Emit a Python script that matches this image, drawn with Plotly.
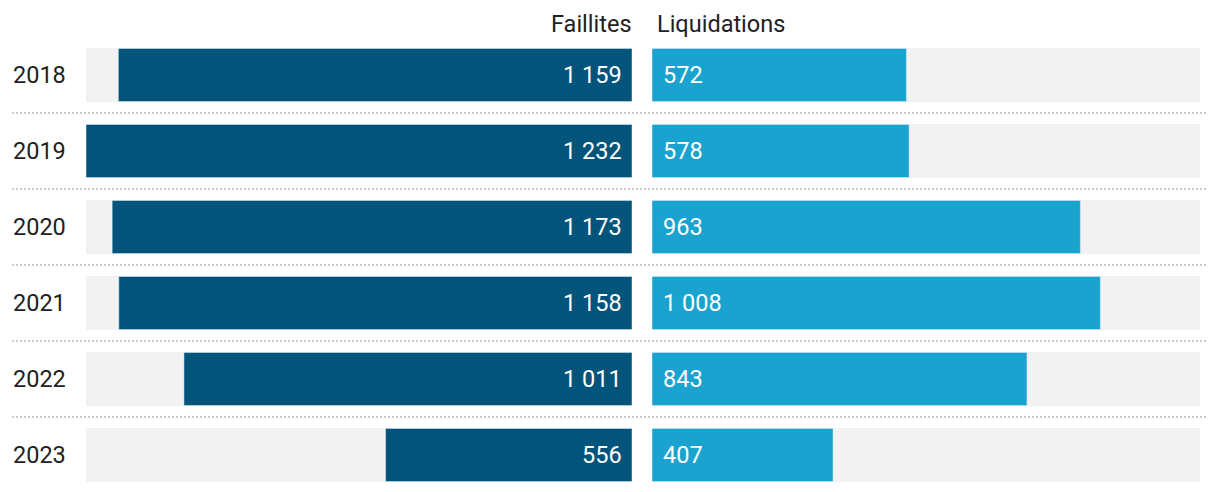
import plotly.graph_objects as go

years = ["2018", "2019", "2020", "2021", "2022", "2023"]
faillites = [1159, 1232, 1173, 1158, 1011, 556]
liquidations = [572, 578, 963, 1008, 843, 407]
title_left = "Faillites"
title_right = "Liquidations"

DARK = "#02547a"
LIGHT = "#1aa3cf"
GREY = "#f2f2f2"
TEXT = "#222222"
FONT = "Roboto"
FS = 23.5

vmax = max(faillites + liquidations)
pos = list(range(len(years)))

def fmt(v):
    return f"{v:,}".replace(",", " ")

fig = go.Figure()
W = 0.697
fig.add_trace(go.Bar(y=pos, x=[vmax] * len(years), orientation="h", marker_color=GREY,
                     width=W, xaxis="x", yaxis="y", hoverinfo="skip", showlegend=False))
fig.add_trace(go.Bar(y=pos, x=faillites, orientation="h", marker_color=DARK,
                     width=W, xaxis="x", yaxis="y", showlegend=False, name=title_left))
fig.add_trace(go.Bar(y=pos, x=[vmax] * len(years), orientation="h", marker_color=GREY,
                     width=W, xaxis="x2", yaxis="y", hoverinfo="skip", showlegend=False))
fig.add_trace(go.Bar(y=pos, x=liquidations, orientation="h", marker_color=LIGHT,
                     width=W, xaxis="x2", yaxis="y", showlegend=False, name=title_right))

annotations = []
for i, y in enumerate(years):
    annotations.append(dict(xref="paper", yref="y", x=11 / 1220, y=i, text=y, showarrow=False,
                            xanchor="left", yanchor="middle", font=dict(size=FS, color=TEXT, family=FONT)))
    annotations.append(dict(xref="x", yref="y", x=0, y=i, text=fmt(faillites[i]), showarrow=False,
                            xanchor="right", yanchor="middle", xshift=-8,
                            font=dict(size=FS, color="white", family=FONT)))
    annotations.append(dict(xref="x2", yref="y", x=0, y=i, text=fmt(liquidations[i]), showarrow=False,
                            xanchor="left", yanchor="middle", xshift=9,
                            font=dict(size=FS, color="white", family=FONT)))
annotations.append(dict(xref="paper", yref="paper", x=634 / 1220, y=1, yshift=12, text=title_left,
                        showarrow=False, xanchor="right", yanchor="middle",
                        font=dict(size=FS, color=TEXT, family=FONT)))
annotations.append(dict(xref="paper", yref="paper", x=655 / 1220, y=1, yshift=12, text=title_right,
                        showarrow=False, xanchor="left", yanchor="middle",
                        font=dict(size=FS, color=TEXT, family=FONT)))

shapes = []
for i in range(len(years) - 1):
    shapes.append(dict(type="line", xref="paper", yref="y", x0=12 / 1220, x1=1208 / 1220,
                       y0=i + 0.5, y1=i + 0.5, line=dict(color="#cccccc", width=2, dash="2px,2px")))

off = -1 / 76
fig.update_layout(
    width=1220, height=492,
    margin=dict(l=0, r=0, t=36, b=0),
    paper_bgcolor="white", plot_bgcolor="white",
    barmode="overlay",
    xaxis=dict(domain=[86 / 1220, 632 / 1220], range=[vmax, 0], visible=False, fixedrange=True),
    xaxis2=dict(domain=[652 / 1220, 1200 / 1220], range=[0, vmax], visible=False, fixedrange=True),
    yaxis=dict(range=[len(years) - 0.5 + off, -0.5 + off], visible=False, fixedrange=True),
    annotations=annotations,
    shapes=shapes,
    font=dict(family=FONT),
)

fig.write_html("out.html", config={"displayModeBar": False},
               post_script="document.body.style.margin='0';document.body.style.overflow='hidden';")
